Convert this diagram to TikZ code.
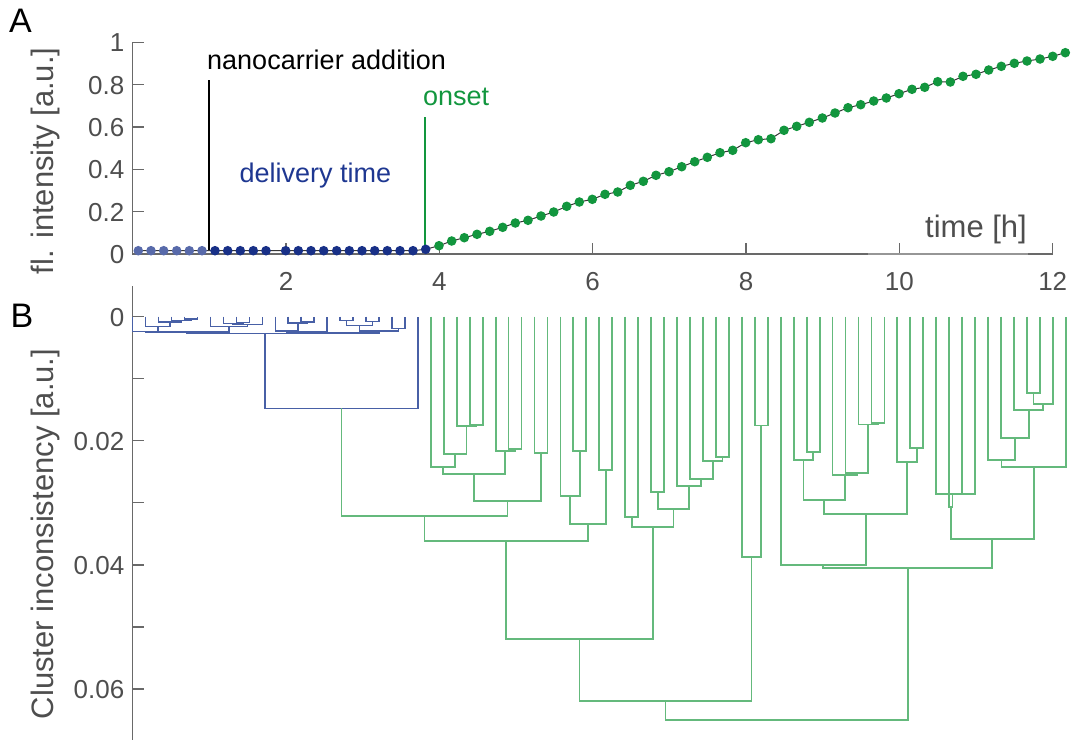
\documentclass[tikz,border=0pt]{standalone}
\usepackage{fontspec}
\setmainfont{Liberation Sans}

\definecolor{axgray}{RGB}{105,105,105}
\definecolor{txtgray}{RGB}{78,78,78}
\definecolor{bluedot}{RGB}{24,48,135}
\definecolor{bluelight}{RGB}{88,106,170}
\definecolor{bluetext}{RGB}{30,55,145}
\definecolor{greendot}{RGB}{18,150,62}
\definecolor{dendgreen}{RGB}{100,185,124}
\definecolor{dendblue}{RGB}{72,96,166}
\definecolor{traceline}{RGB}{55,55,55}

% one dendrogram link: left child (x,y) down to the merge height, across, up to right child (x,y)
\newcommand\dU[6]{\draw[#1] (#2,#3) |- (#4,#6) -- (#4,#5);}

% time points of the intensity trace
\def\lightpts{138.3/250.7, 151/250.7, 163.7/250.7, 176.7/250.7, 189.3/250.7, 202/250.7}
\def\darkpts{215/250.7, 227.7/250.7, 240.3/250.7, 253.3/250.7, 266/250.7, 285.7/250.7, 298.3/250.7, 311/250.7, 323.7/250.7, 336.7/250.7, 349.3/250.7, 362/250.7, 374.7/250.7, 387.3/250.7, 400/250.7, 413/250.7, 425.7/249.3}
\def\greenpts{439/245.7, 451.7/241, 464.3/237.7, 477/234.3, 489.7/231.3, 502.7/227.3, 515.3/223, 528/220.3, 541/216, 553.7/212, 566.7/206.3, 579.3/202, 592.3/199.3, 605/194.3, 617.7/192, 630.3/185.3, 643.3/181.3, 656/175.3, 669/171.7, 681.7/166.7, 694.7/161.7, 707.3/157.3, 720/152.7, 732.7/150.3, 745.7/142.7, 758.3/139.7, 771/138.7, 784/130.3, 796.7/126.3, 809.3/122.3, 822.3/118, 835/113, 848/107.7, 860.7/104.7, 873.7/101, 886.3/98, 899/93.7, 912/89.3, 924.7/87.3, 937.7/81.7, 950.3/82, 963/76.3, 976/74.3, 988.7/70, 1001.3/66.3, 1014.3/63.3, 1027/61, 1040/59, 1052.7/56.3, 1065.3/52.7}

\begin{document}
\begin{tikzpicture}[x=1pt,y=-1pt,
  axis/.style={draw=axgray, line width=1.2pt},
  ticklab/.style={font=\fontsize{26}{30}\selectfont, text=txtgray, inner sep=0pt},
  axlab/.style={font=\fontsize{31}{36}\selectfont, text=txtgray, inner sep=0pt},
  annot/.style={font=\fontsize{27}{32}\selectfont, inner sep=0pt},
  panel/.style={font=\fontsize{34}{40}\selectfont, inner sep=0pt},
  dgreen/.style={draw=dendgreen, line width=1.8pt},
  dblue/.style={draw=dendblue, line width=1.5pt},
  trace/.style={draw=traceline, line width=1pt},
  marker/.style={line width=2pt}]
\useasboundingbox (0,0) rectangle (1075,740);

% ---------------- panel A: intensity trace ----------------
\draw[axis] (132.7,42.3) -- (132.7,254) -- (1052.7,254);
\foreach \v/\y [count=\i] in {0/254, 0.2/211.7, 0.4/169.4, 0.6/127, 0.8/84.7, 1/42.3} {
  \draw[axis] (132.7,\y) -- (143.5,\y);
  \node[ticklab, anchor=base east] (ya\i) at (124.5,\y+9.3) {\v};
}
\foreach \v/\x in {2/286, 4/439.3, 6/592.7, 8/746, 10/899.3, 12/1052.7} {
  \draw[axis] (\x,254) -- (\x,243.3);
  \node[ticklab, anchor=base] (xa\v) at (\x,290.3) {\v};
}
% the axis fades slightly under the time label
\fill[white, opacity=0.3] (868,252.5) rectangle (1028,255.5);

\node[panel, anchor=base west] (pA) at (9,32.5) {A};
\node[axlab, rotate=90, anchor=base] (ylA) at (53.5,161) {fl. intensity [a.u.]};
\node[axlab, anchor=base west] (xlA) at (925,237.3) {time [h]};

% event markers
\coordinate (addTop) at (208.7,80);
\coordinate (addBot) at (208.7,251);
\coordinate (onTop) at (425,117.3);
\coordinate (onBot) at (425,249.3);
\draw[marker, black] (addTop) -- (addBot);
\draw[marker, greendot] (onTop) -- (onBot);

\node[annot, anchor=base west] (tNano) at (207,69.3) {nanocarrier addition};
\node[annot, anchor=base west, text=bluetext] (tDel) at (239.5,182) {delivery time};
\node[annot, anchor=base west, text=greendot] (tOn) at (423,105.5) {onset};

% trace and its points
\draw[trace] (138.3,250.7) -- (413,250.7) -- (425.7,249.3)
  \foreach \x/\y in \greenpts {-- (\x,\y)};
\foreach \x/\y in \lightpts {\fill[bluelight] (\x,\y) circle[radius=4.8pt];}
\foreach \x/\y in \darkpts {\fill[bluedot] (\x,\y) circle[radius=4.8pt];}
\foreach \x/\y in \greenpts {\fill[greendot] (\x,\y) circle[radius=4.8pt];}

% ---------------- panel B: dendrogram ----------------
\draw[axis] (132.7,286) -- (132.7,740);
\foreach \y in {316.7,378.7,440.7,502.7,565,627,689}
  \draw[axis] (132.7,\y) -- (143.5,\y);
\foreach \v/\y [count=\i] in {0/316.7, 0.02/440.7, 0.04/565, 0.06/689}
  \node[ticklab, anchor=base east] (yb\i) at (124.5,\y+9.3) {\v};

\node[panel, anchor=base west] (pB) at (10.5,327.5) {B};
\node[axlab, rotate=90, anchor=base] (ylB) at (53.5,534) {Cluster inconsistency [a.u.]};

% blue cluster (before onset)
\dU{dblue}{184.5}{316.7}{197.5}{316.7}{319.0}
\dU{dblue}{171.6}{316.7}{191.0}{319.0}{320.7}
\dU{dblue}{158.6}{316.7}{181.3}{320.7}{322.2}
\dU{dblue}{145.7}{316.7}{170.0}{322.2}{326.7}
\dU{dblue}{132.7}{316.7}{157.9}{326.7}{331.5}
\dU{dblue}{236.4}{316.7}{249.3}{316.7}{322.5}
\dU{dblue}{223.4}{316.7}{242.9}{322.5}{323.5}
\dU{dblue}{233.2}{323.5}{262.3}{316.7}{324.5}
\dU{dblue}{210.5}{316.7}{247.7}{324.5}{326.5}
\dU{dblue}{145.3}{331.5}{229.1}{326.5}{331.8}
\dU{dblue}{301.2}{316.7}{314.1}{316.7}{322.0}
\dU{dblue}{288.2}{316.7}{307.7}{322.0}{323.2}
\dU{dblue}{275.3}{316.7}{298.0}{323.2}{331.0}
\dU{dblue}{340.1}{316.7}{353.0}{316.7}{320.5}
\dU{dblue}{366.0}{316.7}{378.9}{316.7}{321.5}
\dU{dblue}{346.6}{320.5}{372.5}{321.5}{325.5}
\dU{dblue}{391.9}{316.7}{404.9}{316.7}{328.5}
\dU{dblue}{359.6}{325.5}{398.4}{328.5}{331.0}
\dU{dblue}{286.7}{331.0}{327.1}{316.7}{332.0}
\dU{dblue}{306.9}{332.0}{379.0}{331.0}{333.0}
\dU{dblue}{187.2}{331.8}{343.0}{333.0}{333.5}
\dU{dblue}{265.1}{333.5}{417.8}{316.7}{408.3}

% green cluster (after onset), left part
\dU{dgreen}{469.6}{316.7}{482.6}{316.7}{425.0}
\dU{dgreen}{456.7}{316.7}{476.1}{425.0}{425.7}
\dU{dgreen}{443.7}{316.7}{466.4}{425.7}{454.3}
\dU{dgreen}{430.8}{316.7}{455.1}{454.3}{466.7}
\dU{dgreen}{508.5}{316.7}{521.5}{316.7}{448.7}
\dU{dgreen}{495.6}{316.7}{515.0}{448.7}{450.7}
\dU{dgreen}{443.0}{466.7}{505.3}{450.7}{474.3}
\dU{dgreen}{534.4}{316.7}{547.4}{316.7}{452.7}
\dU{dgreen}{474.2}{474.3}{540.9}{452.7}{501.0}
\dU{dgreen}{341.5}{408.3}{507.5}{501.0}{515.7}
\dU{dgreen}{573.3}{316.7}{586.3}{316.7}{450.7}
\dU{dgreen}{560.4}{316.7}{579.8}{450.7}{496.0}
\dU{dgreen}{599.2}{316.7}{612.2}{316.7}{469.7}
\dU{dgreen}{570.1}{496.0}{605.7}{469.7}{524.0}
\dU{dgreen}{424.5}{515.7}{587.9}{524.0}{540.7}
\dU{dgreen}{625.2}{316.7}{638.1}{316.7}{516.7}
\dU{dgreen}{651.1}{316.7}{664.0}{316.7}{491.7}
\dU{dgreen}{715.9}{316.7}{728.8}{316.7}{457.0}
\dU{dgreen}{702.9}{316.7}{722.4}{457.0}{461.3}
\dU{dgreen}{690.0}{316.7}{712.6}{461.3}{479.3}
\dU{dgreen}{677.0}{316.7}{701.3}{479.3}{486.0}
\dU{dgreen}{657.6}{491.7}{689.2}{486.0}{509.3}
\dU{dgreen}{631.7}{516.7}{673.4}{509.3}{526.7}
\dU{dgreen}{506.2}{540.7}{652.6}{526.7}{639.0}
\dU{dgreen}{754.8}{316.7}{767.7}{316.7}{425.5}
\dU{dgreen}{741.8}{316.7}{761.3}{425.5}{556.7}
\dU{dgreen}{579.4}{639.0}{751.5}{556.7}{700.7}

% green cluster, right part
\dU{dgreen}{806.6}{316.7}{819.6}{316.7}{452.3}
\dU{dgreen}{793.6}{316.7}{813.1}{452.3}{460.0}
\dU{dgreen}{871.4}{316.7}{884.4}{316.7}{423.3}
\dU{dgreen}{858.4}{316.7}{877.9}{423.3}{424.5}
\dU{dgreen}{845.5}{316.7}{868.2}{424.5}{473.0}
\dU{dgreen}{832.5}{316.7}{856.9}{473.0}{475.3}
\dU{dgreen}{803.4}{460.0}{844.7}{475.3}{500.3}
\dU{dgreen}{910.3}{316.7}{923.2}{316.7}{448.3}
\dU{dgreen}{897.3}{316.7}{916.8}{448.3}{461.7}
\dU{dgreen}{824.1}{500.3}{907.0}{461.7}{514.3}
\dU{dgreen}{780.7}{316.7}{865.6}{514.3}{565.0}
% four leaves joined almost at one height, with an inverted link
\dU{dgreen}{936.2}{316.7}{975.1}{316.7}{494.3}
\draw[dgreen] (962.1,316.7) -- (962.1,494.3);
\dU{dgreen}{949.2}{316.7}{952.4}{494.3}{506.7}
\dU{dgreen}{1026.9}{316.7}{1039.9}{316.7}{393.3}
\dU{dgreen}{1033.4}{393.3}{1052.8}{316.7}{404.0}
\dU{dgreen}{1014.0}{316.7}{1043.1}{404.0}{410.3}
\dU{dgreen}{1001.0}{316.7}{1028.6}{410.3}{437.7}
\dU{dgreen}{988.0}{316.7}{1014.8}{437.7}{460.0}
\dU{dgreen}{1001.4}{460.0}{1065.8}{316.7}{466.7}
\dU{dgreen}{950.8}{506.7}{1033.6}{466.7}{539.0}
\dU{dgreen}{823.1}{565.0}{992.2}{539.0}{567.7}

% top link
\dU{dgreen}{665.5}{700.7}{907.6}{567.7}{720.0}
\end{tikzpicture}
\end{document}
